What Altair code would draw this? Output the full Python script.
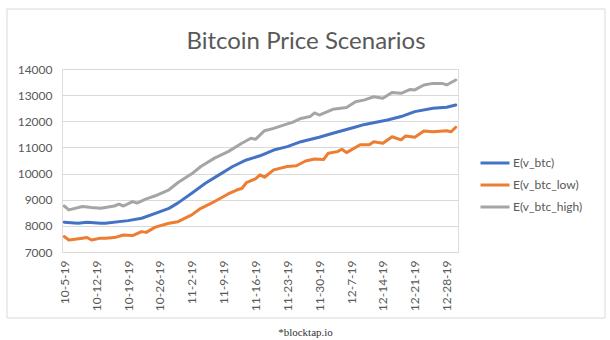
import json
import altair as alt
import pandas as pd

SERIES = ["E(v_btc)", "E(v_btc_low)", "E(v_btc_high)"]
COLORS = ["#4472C4", "#ED7D31", "#A5A5A5"]
TICK_DAYS = [0, 7, 14, 21, 28, 35, 42, 49, 56, 63, 70, 77, 84]
TICK_LABELS = ["10-5-19", "10-12-19", "10-19-19", "10-26-19", "11-2-19", "11-9-19",
               "11-16-19", "11-23-19", "11-30-19", "12-7-19", "12-14-19", "12-21-19", "12-28-19"]

# day offsets since 10-5-19 and values
BTC_DAYS = [0, 3, 5, 8, 9, 14, 17, 20, 23, 25, 28, 31, 34, 37, 40, 43, 46, 49, 52, 56,
            59, 64, 66, 71, 74, 77, 81, 84, 86]
BTC_VALS = [8140, 8100, 8140, 8100, 8100, 8200, 8290, 8480, 8670, 8880, 9250, 9630, 9950,
            10270, 10520, 10680, 10900, 11030, 11220, 11390, 11540, 11780, 11880, 12050,
            12180, 12370, 12500, 12540, 12620]

LOW_DAYS = [0, 1, 4, 5, 6, 8, 9, 11, 13, 15, 17, 18, 20, 23, 25, 28, 30, 33, 36, 38, 39,
            40, 42, 43, 44, 46, 49, 51, 53, 55, 57, 58, 60, 61, 62, 65, 67, 68, 70, 72, 74,
            75, 77, 79, 81, 84, 85, 86]
LOW_VALS = [7590, 7460, 7530, 7555, 7460, 7530, 7530, 7550, 7650, 7630, 7780, 7750, 7950,
            8100, 8160, 8420, 8670, 8930, 9220, 9380, 9430, 9650, 9800, 9950, 9860, 10140,
            10270, 10300, 10480, 10560, 10540, 10780, 10840, 10930, 10800, 11100, 11100,
            11220, 11160, 11410, 11290, 11440, 11390, 11630, 11600, 11640, 11600, 11770]

HIGH_DAYS = [0, 1, 4, 6, 8, 9, 11, 12, 13, 15, 16, 18, 20, 23, 25, 28, 30, 33, 36, 39, 41,
             42, 44, 46, 49, 50, 52, 54, 55, 56, 59, 62, 64, 66, 68, 70, 72, 74, 76, 77, 79,
             81, 83, 84, 86]
HIGH_VALS = [8760, 8610, 8740, 8700, 8670, 8700, 8760, 8830, 8760, 8930, 8870, 9030, 9150,
             9380, 9660, 9990, 10270, 10590, 10840, 11160, 11350, 11310, 11640, 11730, 11900,
             11950, 12110, 12180, 12320, 12240, 12460, 12530, 12750, 12820, 12940, 12880,
             13100, 13070, 13220, 13200, 13390, 13450, 13450, 13390, 13580]

Y_TICKS = [7000, 8000, 9000, 10000, 11000, 12000, 13000, 14000]

frames = []
for name, days, vals in [(SERIES[0], BTC_DAYS, BTC_VALS),
                         (SERIES[1], LOW_DAYS, LOW_VALS),
                         (SERIES[2], HIGH_DAYS, HIGH_VALS)]:
    frames.append(pd.DataFrame({"day": days, "value": vals, "series": name}))
df = pd.concat(frames, ignore_index=True)

FONT = "Lato"
GREY_TEXT = "#595959"

label_expr = json.dumps(TICK_LABELS) + "[round(datum.value / 7)]"

lines = alt.Chart(df).mark_line(strokeWidth=3, strokeJoin="round", strokeCap="round").encode(
    x=alt.X("day:Q",
            scale=alt.Scale(domain=[-0.5, 86.5], nice=False, zero=False),
            axis=alt.Axis(values=TICK_DAYS, labelExpr=label_expr, labelAngle=-90,
                          labelFontSize=12, labelColor=GREY_TEXT, labelFont=FONT,
                          labelPadding=8, ticks=False, domain=False, grid=False,
                          labelOverlap=False, labelFlush=False,
                          title="*blocktap.io", titleFont="Liberation Serif",
                          titleFontSize=11, titleFontWeight=400, titleColor="#333333",
                          titleX=243, titleY=83, titleBaseline="alphabetic",
                          titleAnchor="start", titleAlign="center")),
    y=alt.Y("value:Q",
            scale=alt.Scale(domain=[7000, 14000], nice=False, zero=False),
            axis=alt.Axis(values=Y_TICKS, format="d", labelFontSize=12,
                          labelColor=GREY_TEXT, labelFont=FONT, labelPadding=10,
                          ticks=False, domain=False, grid=True, gridColor="#d9d9d9",
                          gridWidth=1, title=None)),
    color=alt.Color("series:N",
                    scale=alt.Scale(domain=SERIES, range=COLORS),
                    legend=alt.Legend(orient="none", legendX=417, legendY=78, title=None,
                                      symbolType="stroke", symbolSize=841,
                                      symbolStrokeWidth=3, labelFontSize=12,
                                      labelFont=FONT, labelColor=GREY_TEXT,
                                      labelOffset=2, rowPadding=0)),
)

frame = alt.Chart(pd.DataFrame({"k": [0]})).mark_rect(
    filled=False, stroke="#d9d9d9", strokeWidth=1
).encode(
    x=alt.value(-55), x2=alt.value(543), y=alt.value(-60), y2=alt.value(249)
)

chart = alt.layer(frame, lines).properties(
    width=396,
    height=183,
    title=alt.TitleParams("Bitcoin Price Scenarios", fontSize=24, font=FONT,
                          fontWeight="normal", color=GREY_TEXT, anchor="middle",
                          frame="group", dx=46, offset=-45),
    autosize=alt.AutoSizeParams(type="none"),
    padding={"left": 62, "top": 69, "right": 152, "bottom": 88},
).configure_view(stroke=None).configure(background="white")

chart.save("out.html", embed_options={"renderer": "svg", "actions": False})
